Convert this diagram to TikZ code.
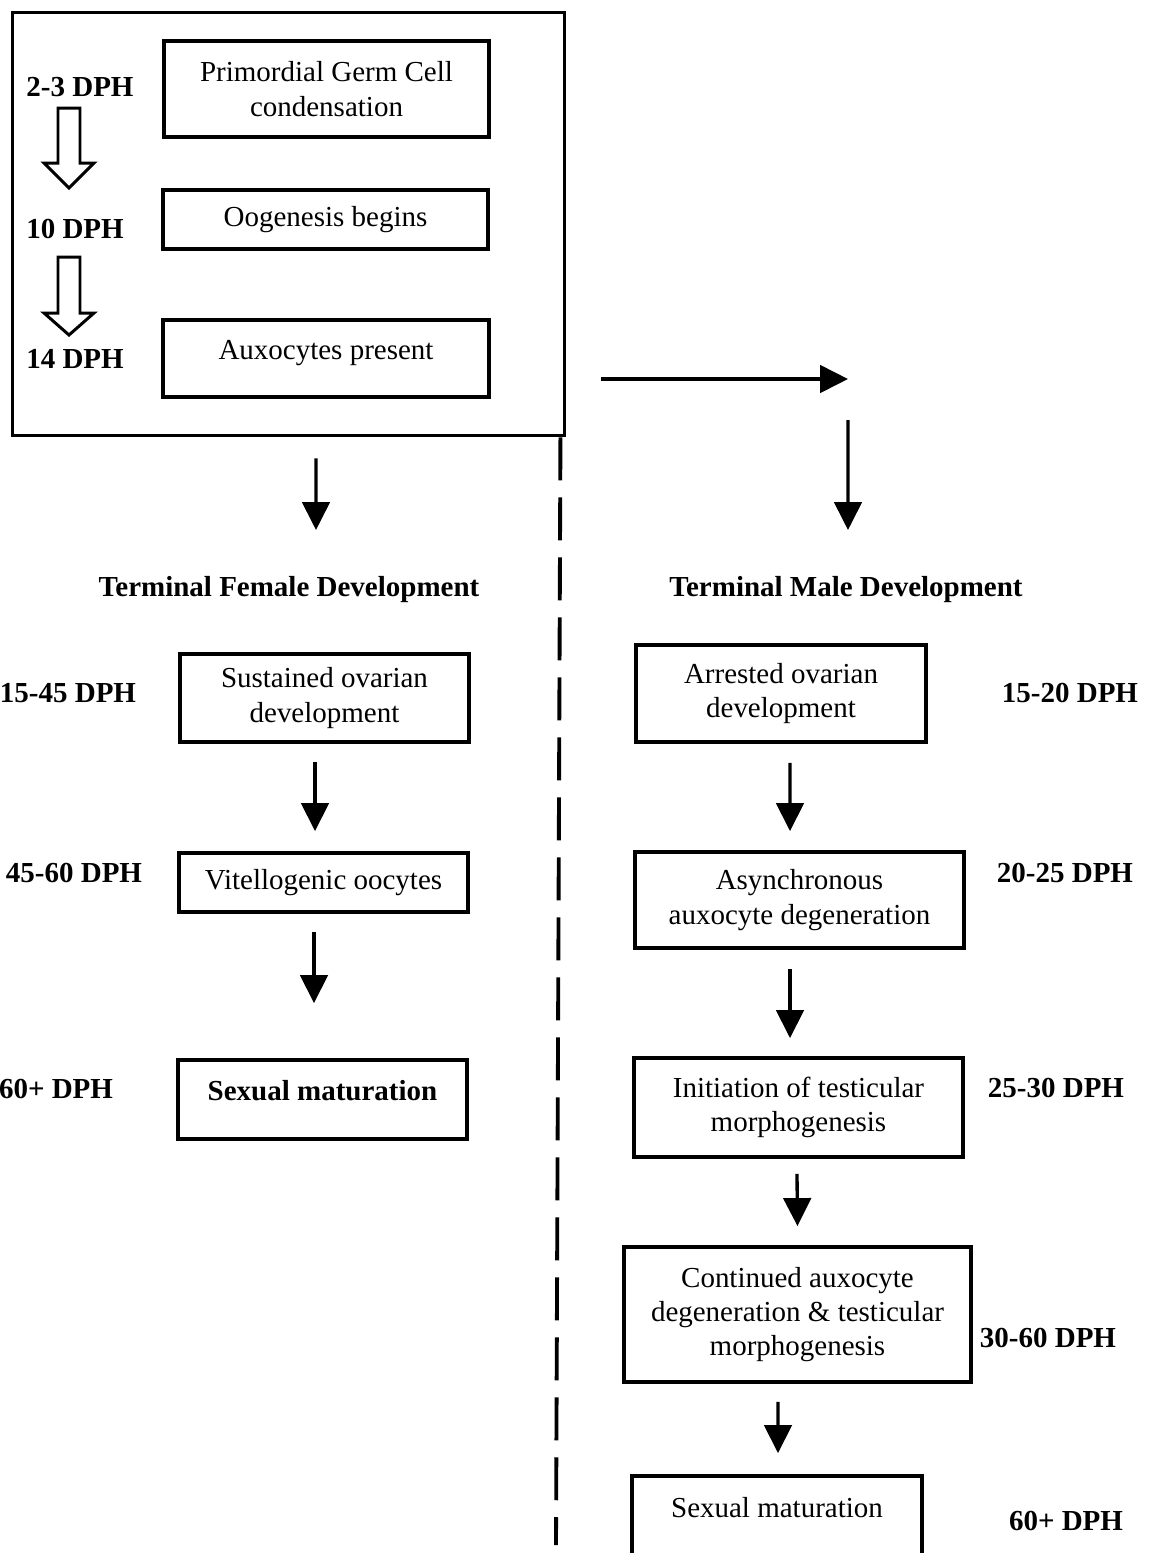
\documentclass[tikz,border=0pt]{standalone}
\usepackage{fontspec}
\setmainfont{Liberation Serif}
\usetikzlibrary{arrows.meta}

\tikzset{
  stagebox/.style={draw, line width=2.2pt, align=center, inner sep=2pt,
    font=\fontsize{16.5}{19.5}\selectfont},
  daylabel/.style={font=\fontsize{16.5}{19.5}\selectfont\bfseries, inner sep=0pt},
  arr/.style={line width=1.9pt, -{Triangle[width=0.55cm,length=0.56cm]}},
  hollow/.style={line width=1.7pt, fill=white, line join=miter},
}

\begin{document}
\begin{tikzpicture}[x=0.02cm, y=-0.02cm]
\useasboundingbox (0,0) rectangle (1151,1553);

% early gonad (common stages)
\node[draw, line width=1.7pt, minimum width=11.06cm, minimum height=8.48cm, inner sep=0pt] (early) at (288.5,224) {};
\node[stagebox, minimum width=6.5cm, minimum height=1.92cm] (pgc) at (326.5,89) {Primordial Germ Cell\\condensation};
\node[stagebox, minimum width=6.5cm, minimum height=1.18cm] (oog) at (325.5,219.5) {Oogenesis begins};
\node[stagebox, minimum width=6.52cm, minimum height=1.54cm, text depth=0.34cm] (aux) at (326,358.5) {Auxocytes present};
\node[daylabel] (d23) at (80,87) {2-3 DPH};
\node[daylabel] (d10) at (75,229) {10 DPH};
\node[daylabel] (d14) at (75,359) {14 DPH};
\draw[hollow] (58,108) -- (80,108) -- (80,163) -- (94,163) -- (69,188) -- (44,163) -- (58,163) -- cycle;
\draw[hollow] (58,257) -- (80,257) -- (80,313) -- (94,313) -- (69,335) -- (44,313) -- (58,313) -- cycle;

% divider
\draw[line width=2.2pt, dash pattern=on 0.86cm off 0.34cm] ([xshift=-0.12cm]early.south east) -- (556,1545);

% female branch
\node[daylabel] (tfd) at (289,590) {Terminal Female Development};
\node[stagebox, minimum width=5.78cm, minimum height=1.76cm] (sod) at (324.5,698) {Sustained ovarian\\development};
\node[stagebox, minimum width=5.78cm, minimum height=1.18cm] (vit) at (323.5,882.5) {Vitellogenic oocytes};
\node[stagebox, minimum width=5.78cm, minimum height=1.58cm, text depth=0.36cm] (fsex) at (322.5,1099.5) {\textbf{Sexual maturation}};
\node[daylabel] (d1545) at (68,693) {15-45 DPH};
\node[daylabel] (d4560) at (74,873) {45-60 DPH};
\node[daylabel] (f60) at (56,1089) {60+ DPH};
\draw[arr] ([xshift=0.55cm,yshift=-0.42cm]early.south) -- ([xshift=0.54cm,yshift=1.2cm]tfd.center);
\draw[arr] ([xshift=-0.19cm,yshift=-0.36cm]sod.south) -- ([xshift=-0.17cm,yshift=0.4cm]vit.north);
\draw[arr] ([xshift=-0.19cm,yshift=-0.36cm]vit.south) -- ([xshift=-0.17cm,yshift=1.1cm]fsex.north);

% male branch
\node[daylabel] (tmd) at (846,590) {Terminal Male Development};
\node[stagebox, minimum width=5.8cm, minimum height=1.94cm] (aod) at (781,693.5) {Arrested ovarian\\development};
\node[stagebox, minimum width=6.58cm, minimum height=1.92cm] (asy) at (799.5,900) {Asynchronous\\auxocyte degeneration};
\node[stagebox, minimum width=6.58cm, minimum height=1.98cm] (init) at (798.5,1107.5) {Initiation of testicular\\morphogenesis};
\node[stagebox, minimum width=6.94cm, minimum height=2.7cm] (cont) at (797.5,1314.5) {Continued auxocyte\\degeneration \& testicular\\morphogenesis};
\node[stagebox, minimum width=5.8cm, minimum height=1.88cm, text depth=0.62cm] (msex) at (777,1523) {Sexual maturation};
\node[daylabel] (d1520) at (1070,693) {15-20 DPH};
\node[daylabel] (d2025) at (1065,873) {20-25 DPH};
\node[daylabel] (d2530) at (1056,1088) {25-30 DPH};
\node[daylabel] (d3060) at (1048,1338) {30-60 DPH};
\node[daylabel] (m60) at (1066,1521) {60+ DPH};
\coordinate (side) at (601,379);
\coordinate (turn) at (848,379);
\draw[arr] (side) -- (turn);
\draw[arr] ([yshift=-0.82cm]turn) -- ([xshift=0.04cm,yshift=1.2cm]tmd.center);
\draw[arr] ([xshift=0.18cm,yshift=-0.38cm]aod.south) -- ([xshift=-0.19cm,yshift=0.38cm]asy.north);
\draw[arr] ([xshift=-0.19cm,yshift=-0.38cm]asy.south) -- ([xshift=-0.17cm,yshift=0.36cm]init.north);
\draw[arr] ([xshift=-0.03cm,yshift=-0.3cm]init.south) -- ([yshift=0.38cm]cont.north);
\draw[arr] ([xshift=-0.39cm,yshift=-0.36cm]cont.south) -- ([xshift=0.02cm,yshift=0.42cm]msex.north);
\end{tikzpicture}
\end{document}
